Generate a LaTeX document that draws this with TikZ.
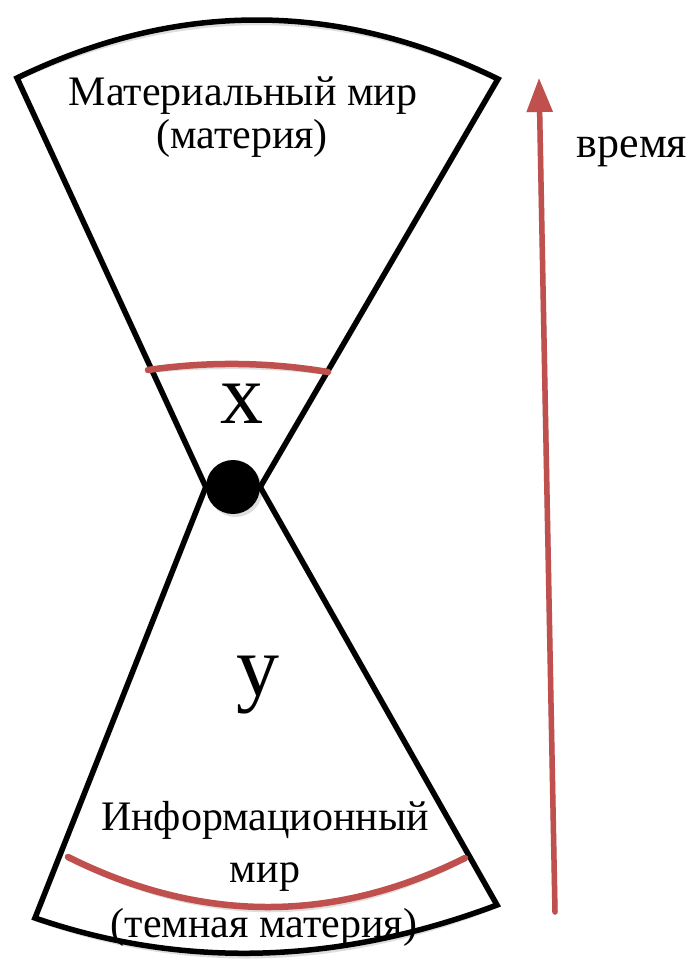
\documentclass[tikz,border=0pt]{standalone}
\usepackage{fontspec}
\setmainfont{Liberation Serif}
\usetikzlibrary{arrows.meta}
\definecolor{accred}{RGB}{192,80,77}
\begin{document}
\begin{tikzpicture}[x=1pt,y=-1pt,
  outline/.style={draw=black,line width=5.5pt},
  shadowline/.style={draw=black!13,line width=6pt},
  redarc/.style={draw=accred,line width=6.5pt,line cap=round},
  timearrow/.style={line width=5.5pt,line cap=round,-{Triangle[width=25pt,length=34pt]}},
  lbl/.style={font=\fontsize{42}{43}\selectfont,anchor=base,inner sep=0pt},
  biglbl/.style={font=\fontsize{86}{90}\selectfont,anchor=base,inner sep=0pt},
]
\useasboundingbox (0,0) rectangle (696,959);
% coordinates
\coordinate (TL) at (17,78);
\coordinate (TR) at (498,79);
\coordinate (BL) at (35,918);
\coordinate (BR) at (497,905);
\coordinate (tstart) at (555,912);
\coordinate (tend) at (539,78);
\coordinate (ul) at (148,370);
\coordinate (ur) at (328,372);
\coordinate (ll) at (68,857);
\coordinate (lr) at (465,858);
\node[circle,minimum size=54pt,inner sep=0pt] (dot) at (233,487) {};
% shadows
\begin{scope}[shift={(2.5,3)}]
  \draw[shadowline] (dot.west) -- (TL) .. controls (177.7,0.3) and (338,0.7) .. (TR) -- (dot.east);
  \draw[shadowline] (dot.west) -- (BL) .. controls (183.7,969) and (337.7,964.7) .. (BR) -- (dot.east);
  \draw[shadowline,line cap=round] (ul) .. controls (208,361.3) and (268,362) .. (ur);
  \draw[shadowline,line cap=round] (ll) .. controls (201,923.3) and (333.3,923.7) .. (lr);
  \draw[timearrow,draw=black!13,fill=black!13] (tstart) -- (tend);
  \fill[black!13] (233,487) circle (27);
\end{scope}
% cones
\draw[outline] (dot.west) -- (TL) .. controls (177.7,0.3) and (338,0.7) .. (TR) -- (dot.east);
\draw[outline] (dot.west) -- (BL) .. controls (183.7,969) and (337.7,964.7) .. (BR) -- (dot.east);
\node[circle,fill=black,minimum size=54pt,inner sep=0pt] at (dot) {};
% red arcs
\draw[redarc] (ul) .. controls (208,361.3) and (268,362) .. (ur);
\draw[redarc] (ll) .. controls (201,923.3) and (333.3,923.7) .. (lr);
% time arrow
\draw[timearrow,draw=accred,fill=accred] (tstart) -- (tend);
% labels
\node[lbl] (m1) at (243,105) {Материальный мир};
\node[lbl] (m2) at (242,148) {(материя)};
\node[lbl] (i1) at (265,830) {Информационный};
\node[lbl] (i2) at (265,882) {мир};
\node[lbl] (i3) at (264,937) {(темная материя)};
\node[lbl,font=\fontsize{44}{46}\selectfont] (t) at (632,157) {время};
\node[biglbl] (x) at (242,423) {х};
\node[biglbl] (y) at (258,695) {у};
\end{tikzpicture}
\end{document}
